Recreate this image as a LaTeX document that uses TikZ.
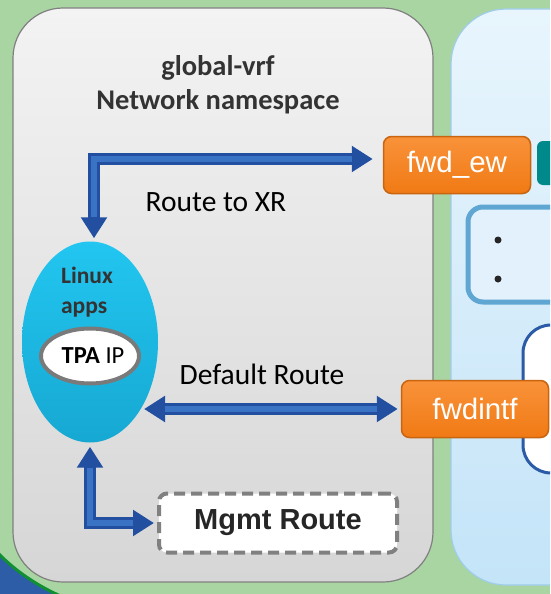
\documentclass[tikz,border=0pt]{standalone}
\usepackage{fontspec}
\setmainfont{Carlito}
\newfontfamily\arialfont{Liberation Sans}
\usepackage{tikz}
\usetikzlibrary{positioning, shapes.geometric, arrows.meta}
\definecolor{bggreen}{HTML}{A9D5A2}
\definecolor{graytop}{HTML}{F3F3F3}
\definecolor{graybot}{HTML}{D6D6D6}
\definecolor{grayline}{HTML}{808080}
\definecolor{bluetop}{HTML}{E8F5FD}
\definecolor{bluebot}{HTML}{C4E4F8}
\definecolor{blueline}{HTML}{9FCDEA}
\definecolor{orangetop}{HTML}{F9923A}
\definecolor{orangebot}{HTML}{F07A14}
\definecolor{orangeline}{HTML}{C9640F}
\definecolor{routedark}{HTML}{224FA0}
\definecolor{routelight}{HTML}{3B73C4}
\definecolor{cyantop}{HTML}{22C6F0}
\definecolor{cyanbot}{HTML}{16A8D2}
\definecolor{tealbox}{HTML}{00898A}
\definecolor{listline}{HTML}{5FA6D3}
\definecolor{listfill}{HTML}{E2F1FB}
\definecolor{cardline}{HTML}{2B5BA6}
\definecolor{blobblue}{HTML}{2D5DA6}
\definecolor{blobline}{HTML}{119033}
\definecolor{darktext}{HTML}{333333}

\begin{document}
\begin{tikzpicture}[
        x=1pt, y=-1pt,
        panel/.style={rounded corners=50pt, line width=1.2pt},
        fwdbox/.style={rectangle, rounded corners=8pt, draw=orangeline, line width=1.5pt,
          top color=orangetop, bottom color=orangebot, minimum width=147pt,
          minimum height=57pt, text=white, font=\arialfont\fontsize{29.5}{31}\selectfont},
        route/.style={draw=routedark, line width=12pt,
          {Triangle[width=25pt,length=21pt]}-{Triangle[width=25pt,length=21pt]}},
        routein/.style={draw=routelight, line width=6pt},
        label/.style={font=\fontsize{29.5}{31}\selectfont, text=black}
      ]
      \useasboundingbox (0,0) rectangle (550,594);
      \clip (0,0) rectangle (550,594);
      \fill[bggreen] (0,0) rectangle (550,594);

      % corner of the outer shape
      \filldraw[fill=blobblue, draw=blobline, line width=3pt]
        (-5,550) .. controls (12,568) and (35,586) .. (70,600) -- (-5,600) -- cycle;

      % panels
      \draw[panel, draw=grayline, top color=graytop, bottom color=graybot] (13,8) rectangle (433,582);
      \draw[panel, rounded corners=55pt, draw=blueline, top color=bluetop, bottom color=bluebot] (451,9) rectangle (640,585);

      % right panel content
      \fill[tealbox, rounded corners=6pt] (537,141) rectangle (580,185);
      \draw[listline, fill=listfill, line width=5pt, rounded corners=15pt] (468,207) rectangle (600,302);
      \fill[black!85] (498,240) circle (3.5pt) (498,279) circle (3.5pt);
      \draw[cardline, fill=white, line width=3pt, rounded corners=28pt] (523,325) rectangle (600,473);

      % title
      \node[font=\bfseries\fontsize{28.5}{34}\selectfont, text=darktext, align=center] (title) at (218,85)
        {global-vrf\\Network namespace};

      % linux apps
      \node[ellipse, minimum width=136pt, minimum height=201pt, inner sep=0pt,
        top color=cyantop, bottom color=cyanbot] (linux) at (90,342) {};
      \node[ellipse, draw=black!52, line width=4pt, fill=white, minimum width=98pt,
        minimum height=55pt, inner sep=0pt, font=\fontsize{24.5}{26}\selectfont] (tpa) at (90,356)
        {\hspace*{6pt}\textbf{TPA} IP};
      \node[font=\bfseries\fontsize{23.5}{30}\selectfont, text=darktext, align=left,
        above=6pt of tpa, xshift=-3pt] (apps) {Linux\\apps};

      % boxes
      \node[fwdbox] (fwdew) at (457,165) {fwd\_ew};
      \node[fwdbox] (fwdintf) at (475,409) {fwdintf};
      \node[rectangle, rounded corners=8pt, draw=black!50, line width=4pt, dash pattern=on 11pt off 6pt,
        fill=white, minimum width=238pt, minimum height=59pt,
        font=\arialfont\bfseries\fontsize{29}{30}\selectfont, text=black!85] (mgmt) at (278,523) {Mgmt Route};

      % routes
      \coordinate (xrout) at ([xshift=4pt]linux.north);
      \coordinate (xrin) at ([yshift=6pt]fwdew.west);
      \draw[route, shorten <=3pt, shorten >=10pt] (xrout) |- (xrin);
      \draw[routein, shorten <=24pt, shorten >=31pt] (xrout) |- (xrin);
      \draw[route, shorten <=1pt, shorten >=3pt] (fwdintf.west -| linux.-50) -- (fwdintf.west);
      \draw[routein, shorten <=22pt, shorten >=24pt] (fwdintf.west -| linux.-50) -- (fwdintf.west);
      \draw[route, shorten <=4pt, shorten >=3pt] (linux.south) |- (mgmt.west);
      \draw[routein, shorten <=25pt, shorten >=24pt] (linux.south) |- (mgmt.west);

      % labels
      \node[label] (xr) at (216,202) {Route to XR};
      \node[label] (dflt) at (262,374) {Default Route};
\end{tikzpicture}
\end{document}
